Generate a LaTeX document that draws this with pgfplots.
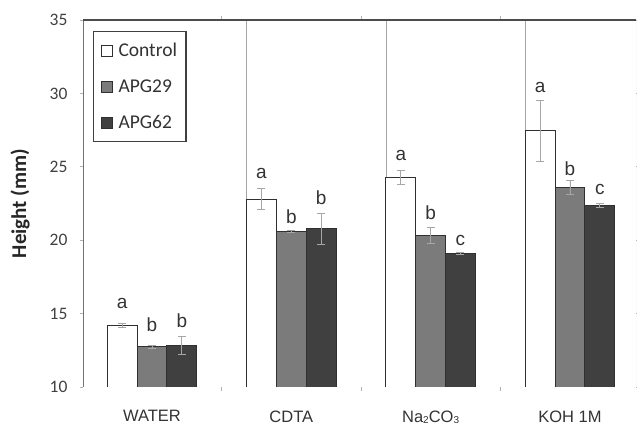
\documentclass[border=0pt]{standalone}
\usepackage{pgfplots}
\pgfplotsset{compat=1.18}
\usepackage{fontspec}
\setmainfont{Carlito}
\newfontfamily\arial{Liberation Sans}
\definecolor{apgA}{HTML}{7B7B7B}
\definecolor{apgB}{HTML}{404040}
\definecolor{edge}{HTML}{303030}
\definecolor{txt}{HTML}{333333}
\newcommand{\sub}[1]{\raisebox{-1pt}{\fontsize{10}{10}\selectfont #1}}
\begin{document}
\begin{tikzpicture}
\path[use as bounding box] (-83pt,-38pt) rectangle (554pt,387pt);
\begin{axis}[
  at={(0pt,0pt)}, anchor=south west,
  scale only axis, width=553pt, height=367pt,
  xmin=-0.495, xmax=3.474, ymin=10, ymax=35,
  ybar=0pt, bar width=29.8pt,
  legend image code/.code={\draw[#1, line width=0.9pt] (1pt,-5.5pt) rectangle (12pt,5.5pt); \path (16pt,0pt);},
  axis line style={draw=none},
  tick align=outside,
  xtick={0,1,2,3},
  xticklabels={WATER, CDTA, Na\sub{2}CO\sub{3}, KOH 1M},
  major x tick style={draw=none},
  xticklabel style={font=\arial\fontsize{16.5}{18}\selectfont, text=txt, anchor=north, yshift=-17pt},
  minor xtick={0.5,1.5,2.5},
  minor x tick style={gray!60, line width=0.6pt},
  minor tick length=4pt,
  extra x ticks={0.679,1.679,2.679},
  extra x tick labels={},
  extra x tick style={grid=major, major grid style={gray!70, line width=0.7pt}, major tick length=0pt},
  ytick={10,15,...,35},
  ytick style={gray!60, line width=0.6pt},
  major tick length=3pt,
  yticklabel style={font=\fontsize{17.5}{20}\selectfont, text=black!75, xshift=-9pt},
  /pgf/number format/assume math mode=true,
  ylabel={\bfseries Height (mm)},
  ylabel style={font=\fontsize{21}{24}\selectfont, text=black!85, at={(axis description cs:-0.1139,0.5)}, anchor=center},
  legend style={at={(axis description cs:0.0181,0.97)}, anchor=north west, draw=black!75, line width=1.2pt,
    font=\fontsize{19.5}{22}\selectfont, row sep=0pt, inner xsep=7pt, inner ysep=1pt,
    cells={anchor=west, minimum height=36pt}, text=txt,
    /tikz/every even column/.append style={column sep=2pt}},
  error bars/y dir=both, error bars/y explicit,
  error bars/error bar style={gray!70, line width=0.7pt},
  error bars/error mark options={rotate=90, mark size=4pt, gray!70, line width=0.7pt},
]
\addplot[fill=white, draw=edge, line width=0.9pt] coordinates {
  (0,14.2) +- (0,0.12)
  (1,22.8) +- (0,0.7)
  (2,24.28) +- (0,0.5)
  (3,27.45) +- (0,2.1)
};
\addplot[fill=apgA, draw=edge, line width=0.9pt] coordinates {
  (0,12.75) +- (0,0.12)
  (1,20.6) +- (0,0.05)
  (2,20.35) +- (0,0.55)
  (3,23.6) +- (0,0.5)
};
\addplot[fill=apgB, draw=edge, line width=0.9pt] coordinates {
  (0,12.85) +- (0,0.6)
  (1,20.8) +- (0,1.05)
  (2,19.1) +- (0,0.05)
  (3,22.38) +- (0,0.15)
};
\legend{Control, APG29, APG62}
% significance letters
\begin{scope}[every node/.style={font=\arial\fontsize{19}{22}\selectfont, text=txt, anchor=base, inner sep=0pt}]
\node at (axis cs:-0.214,15.38) {a};
\node at (axis cs:0,13.77) {b};
\node at (axis cs:0.214,14.02) {b};
\node at (axis cs:0.786,24.2) {a};
\node at (axis cs:1,21.15) {b};
\node at (axis cs:1.214,22.4) {b};
\node at (axis cs:1.786,25.4) {a};
\node at (axis cs:2,21.38) {b};
\node at (axis cs:2.214,19.67) {c};
\node at (axis cs:2.786,30.05) {a};
\node at (axis cs:3,24.44) {b};
\node at (axis cs:3.214,23.08) {c};
\end{scope}
% frame
\draw[black!55, line width=0.9pt] (rel axis cs:0,0) -- (rel axis cs:0,1);
\draw[black!70, line width=1.8pt] (rel axis cs:0,1) -- (rel axis cs:1,1);
\draw[black!50, line width=0.9pt] (rel axis cs:0,0) -- (rel axis cs:1,0);
\draw[black!15, line width=0.6pt] (rel axis cs:1,0) -- (rel axis cs:1,1);
\end{axis}
\end{tikzpicture}
\end{document}
